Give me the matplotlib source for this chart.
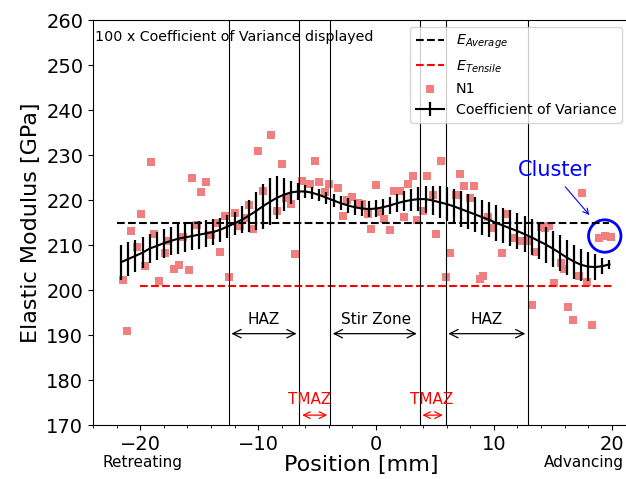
import matplotlib
matplotlib.use("Agg")
import matplotlib.pyplot as plt
from matplotlib.patches import Ellipse

# measured modulus values, N1 specimen
pos = [-21.5, -21.1, -20.8, -20.3, -19.95, -19.6, -19.1, -18.8, -18.4, -17.9,
       -17.6, -17.1, -16.7, -16.4, -15.9, -15.6, -15.2, -14.8, -14.4, -14.0,
       -13.6, -13.2, -12.8, -12.5, -12.0, -11.5, -11.1, -10.8, -10.4, -10.0,
       -9.6, -8.9, -8.4, -8.0, -7.6, -7.2, -6.9, -6.3, -5.6, -5.2,
       -4.8, -4.3, -4.0, -3.25, -2.8, -2.5, -2.0, -1.5, -1.2, -0.7,
       -0.4, 0.0, 0.3, 0.7, 1.2, 1.5, 2.0, 2.4, 2.7, 3.1,
       3.5, 4.0, 4.3, 4.8, 5.1, 5.5, 5.9, 6.3, 6.8, 7.1,
       7.5, 8.0, 8.3, 8.8, 9.1, 9.5, 9.8, 10.7, 11.1, 11.7,
       12.2, 12.8, 13.2, 13.6, 14.0, 14.35, 14.7, 15.1, 15.7, 15.95,
       16.3, 16.75, 17.2, 17.5, 17.9, 18.3, 18.9, 19.4, 19.95]
modulus = [202.3, 191.0, 213.2, 209.5, 217.0, 205.4, 228.4, 212.4, 201.9, 208.3,
           210.8, 204.7, 205.6, 211.7, 204.4, 224.8, 214.4, 221.7, 224.1, 212.2,
           214.8, 208.4, 216.4, 203.0, 217.2, 214.2, 215.9, 218.8, 213.6, 231.0,
           222.0, 234.4, 217.6, 228.0, 220.5, 219.1, 207.9, 224.3, 223.5, 228.7,
           224.1, 221.8, 223.6, 222.7, 216.4, 220.0, 220.6, 219.3, 219.1, 216.8,
           213.5, 223.3, 217.4, 215.7, 213.3, 222.0, 222.0, 216.3, 223.5, 225.3,
           215.6, 217.6, 225.4, 221.1, 212.4, 228.7, 203.0, 208.2, 221.1, 225.7,
           223.2, 220.4, 223.2, 202.5, 203.1, 216.2, 213.7, 208.2, 216.9, 211.5,
           211.0, 211.0, 196.7, 208.5, 213.9, 213.7, 214.2, 201.5, 205.9, 204.7,
           196.2, 193.3, 203.1, 221.6, 201.7, 192.2, 211.5, 211.9, 211.7]

# smoothed trend and 100 x CoV
trend_x = [-21.6, -21.0, -20.4, -19.8, -19.2, -18.6, -18.0, -17.4, -16.8, -16.2,
           -15.6, -15.0, -14.4, -13.8, -13.2, -12.6, -12.0, -11.4, -10.8, -10.2,
           -9.6, -9.0, -8.4, -7.8, -7.2, -6.6, -6.0, -5.4, -4.8, -4.2,
           -3.6, -3.0, -2.4, -1.8, -1.2, -0.6, 0.0, 0.6, 1.2, 1.8,
           2.4, 3.0, 3.6, 4.2, 4.8, 5.4, 6.0, 6.6, 7.2, 7.8,
           8.4, 9.0, 9.6, 10.2, 10.8, 11.4, 12.0, 12.6, 13.2, 13.8,
           14.4, 15.0, 15.6, 16.2, 16.8, 17.4, 18.0, 18.6, 19.2, 19.8]
trend = [206.2, 206.9, 207.6, 208.3, 209.2, 209.8, 210.4, 210.9, 211.4, 211.7,
         212.0, 212.3, 212.6, 212.9, 213.4, 214.1, 214.8, 215.6, 216.5, 217.5,
         218.6, 219.6, 220.5, 221.2, 221.7, 221.9, 221.9, 221.6, 221.1, 220.5,
         219.9, 219.3, 218.8, 218.4, 218.1, 218.0, 218.1, 218.4, 218.8, 219.3,
         219.7, 220.0, 220.2, 220.2, 219.9, 219.5, 219.1, 218.6, 218.0, 217.4,
         216.8, 216.2, 215.6, 214.9, 214.3, 213.7, 213.1, 212.4, 211.7, 210.9,
         210.1, 209.2, 208.2, 207.2, 206.3, 205.6, 205.2, 205.1, 205.3, 205.7]
cov = [3.9, 3.8, 3.6, 3.4, 3.3, 3.2, 3.2, 3.2, 3.3, 3.2,
       3.1, 3.1, 3.0, 2.8, 2.7, 2.6, 2.6, 3.0, 3.5, 4.2,
       5.0, 5.2, 4.8, 3.6, 2.6, 1.8, 1.5, 1.3, 1.3, 1.3,
       1.4, 1.5, 1.6, 1.7, 1.7, 1.7, 1.8, 1.8, 1.9, 2.0,
       2.2, 2.4, 2.6, 3.0, 3.3, 3.6, 3.8, 3.9, 3.9, 3.9,
       3.9, 3.9, 3.9, 3.9, 3.9, 4.0, 4.0, 4.0, 4.0, 4.0,
       4.0, 4.0, 4.0, 3.9, 3.8, 3.6, 3.3, 2.8, 1.8, 1.0]

e_avg = 214.8
e_avg_span = (-22.0, 19.8)
e_tensile = 201.0
e_tensile_span = (-20.0, 20.0)

# zone boundaries [mm]
bounds = [-12.5, -6.5, -3.9, 3.7, 5.9, 12.9]

fig = plt.figure(figsize=(6.26, 4.79), dpi=100)
ax = fig.add_axes([0.1486, 0.1127, 0.857, 0.8455])

ax.hlines(e_avg, *e_avg_span, colors='k', linestyles='--', lw=1.5,
          label='$E_{Average}$')
ax.hlines(e_tensile, *e_tensile_span, colors='r', linestyles='--', lw=1.5,
          label='$E_{Tensile}$')
ax.scatter(pos, modulus, marker='s', s=38, color='lightcoral', linewidths=0,
           label='N1')
ax.errorbar(trend_x, trend, yerr=cov, color='k', lw=1.5, elinewidth=1.6,
            capsize=0, label='Coefficient of Variance')

for b in bounds:
    ax.axvline(b, color='k', lw=0.8)

arr = dict(arrowstyle='<->', color='k', lw=0.9, mutation_scale=15)
ax.annotate('', xy=(bounds[0], 190.3), xytext=(bounds[1], 190.3), arrowprops=arr)
ax.annotate('', xy=(bounds[2], 190.3), xytext=(bounds[3], 190.3), arrowprops=arr)
ax.annotate('', xy=(bounds[4], 190.3), xytext=(bounds[5], 190.3), arrowprops=arr)
ax.text(-9.5, 193.5, 'HAZ', ha='center', va='center', fontsize=11)
ax.text(0.0, 193.5, 'Stir Zone', ha='center', va='center', fontsize=11)
ax.text(9.4, 193.5, 'HAZ', ha='center', va='center', fontsize=11)

rarr = dict(arrowstyle='<->', color='r', lw=0.9, mutation_scale=12)
ax.annotate('', xy=(bounds[1], 172.2), xytext=(bounds[2], 172.2), arrowprops=rarr)
ax.annotate('', xy=(bounds[3], 172.2), xytext=(bounds[4], 172.2), arrowprops=rarr)
ax.text(-5.6, 175.7, 'TMAZ', ha='center', va='center', fontsize=11, color='r')
ax.text(4.75, 175.7, 'TMAZ', ha='center', va='center', fontsize=11, color='r')

ax.text(-23.8, 256.2, '100 x Coefficient of Variance displayed',
        ha='left', va='center', fontsize=10.3)

ax.add_patch(Ellipse((19.4, 212.0), 2.75, 7.2, fill=False, ec='b', lw=2))
ax.annotate('', xy=(18.25, 216.2), xytext=(15.9, 223.4),
            arrowprops=dict(arrowstyle='->', color='b', lw=0.8))
ax.text(15.2, 226.7, 'Cluster', ha='center', va='center', fontsize=15, color='b')

ax.text(-19.8, 161.6, 'Retreating', ha='center', va='center', fontsize=11,
        clip_on=False)
ax.text(17.6, 161.6, 'Advancing', ha='center', va='center', fontsize=11,
        clip_on=False)

ax.set_xlim(-24, 21.5)
ax.set_ylim(170, 260)
ax.set_xticks([-20, -10, 0, 10, 20])
ax.set_xticks(range(-24, 22, 2), minor=True)
ax.tick_params(labelsize=14)
ax.set_xlabel('Position [mm]', fontsize=16, labelpad=1)
ax.set_ylabel('Elastic Modulus [GPa]', fontsize=16)
ax.legend(loc='upper right', fontsize=10.3)

fig.savefig('out.png', dpi=100)
